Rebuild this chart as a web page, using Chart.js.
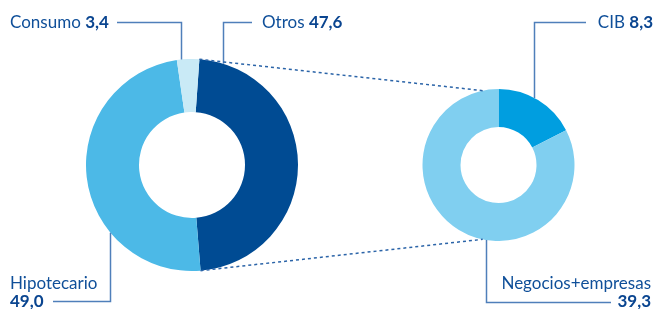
<!DOCTYPE html>
<html>
<head>
<meta charset="utf-8">
<script src="https://cdn.jsdelivr.net/npm/chart.js@4"></script>
<style>
  body { margin: 0; background: #fff; }
  #wrap { position: relative; width: 656px; height: 309px; font-family: Lato, sans-serif; color: #0f4f99; overflow: hidden; }
  .box { position: absolute; }
  .lbl { position: absolute; font-size: 17px; line-height: 18px; white-space: nowrap; }
  .lbl b { font-weight: 700; color: #0a4590; }
  #lines { position: absolute; left: 0; top: 0; pointer-events: none; }
</style>
</head>
<body>
<div id="wrap">
  <div class="box" style="left:86px;top:59px;width:212px;height:212px"><canvas id="mainChart"></canvas></div>
  <div class="box" style="left:422px;top:89px;width:153px;height:152px"><canvas id="detailChart"></canvas></div>
  <canvas id="lines" width="656" height="309"></canvas>
  <div class="lbl" id="lblConsumo" style="left:10px;top:13px"></div>
  <div class="lbl" id="lblOtros" style="left:262px;top:13px"></div>
  <div class="lbl" id="lblCib" style="right:3px;top:13px"></div>
  <div class="lbl" id="lblHipo" style="left:10px;top:274px"></div>
  <div class="lbl" id="lblNeg" style="right:5px;top:274px;text-align:right"></div>
</div>
<script>
// datos
const mainLabels = ['Otros', 'Hipotecario', 'Consumo'];
const mainValues = [47.6, 49.0, 3.4];
const mainColors = ['#004b93', '#4cb9e7', '#c9eaf6'];

const detailLabels = ['CIB', 'Negocios+empresas'];
const detailValues = [8.3, 39.3];
const detailColors = ['#009ee0', '#80cff0'];

function fmt(v) {
    return v.toFixed(1).replace('.', ',');
}

// etiquetas
document.getElementById('lblConsumo').innerHTML = mainLabels[2] + ' <b>' + fmt(mainValues[2]) + '</b>';
document.getElementById('lblOtros').innerHTML = mainLabels[0] + ' <b>' + fmt(mainValues[0]) + '</b>';
document.getElementById('lblCib').innerHTML = detailLabels[0] + ' <b>' + fmt(detailValues[0]) + '</b>';
document.getElementById('lblHipo').innerHTML = mainLabels[1] + '<br><b>' + fmt(mainValues[1]) + '</b>';
document.getElementById('lblNeg').innerHTML = detailLabels[1] + '<br><b>' + fmt(detailValues[1]) + '</b>';

function doughnutOpts(rotation) {
    return {
        responsive: true,
        maintainAspectRatio: false,
        animation: false,
        cutout: '50%',
        rotation: rotation,
        layout: { padding: 0 },
        plugins: { legend: { display: false }, tooltip: { enabled: false } }
    };
}

const mainChart = new Chart(document.getElementById('mainChart'), {
    type: 'doughnut',
    data: {
        labels: mainLabels,
        datasets: [{ data: mainValues, backgroundColor: mainColors, borderWidth: 0 }]
    },
    options: doughnutOpts(4)
});

const detailChart = new Chart(document.getElementById('detailChart'), {
    type: 'doughnut',
    data: {
        labels: detailLabels,
        datasets: [{ data: detailValues, backgroundColor: detailColors, borderWidth: 0 }]
    },
    options: doughnutOpts(0)
});

// geometria de cada anillo en coordenadas de la pagina
function ring(chart) {
    const arc = chart.getDatasetMeta(0).data[0];
    const box = chart.canvas.parentNode;
    return { cx: box.offsetLeft + arc.x, cy: box.offsetTop + arc.y, r: arc.outerRadius, arcs: chart.getDatasetMeta(0).data };
}
function edgeY(g, x, below) {
    const dy = Math.sqrt(Math.max(0, g.r * g.r - (x - g.cx) * (x - g.cx)));
    return below ? g.cy + dy : g.cy - dy;
}
function pointAt(g, a) {
    return [g.cx + g.r * Math.cos(a), g.cy + g.r * Math.sin(a)];
}

function drawLines() {
    const ctx = document.getElementById('lines').getContext('2d');
    const L = ring(mainChart);
    const R = ring(detailChart);
    ctx.clearRect(0, 0, 656, 309);

    // lineas de etiquetas
    ctx.strokeStyle = '#4f7fba';
    ctx.lineWidth = 1.5;
    function leader(x1, y1, x2, g, below) {
        ctx.beginPath();
        ctx.moveTo(x1, y1);
        ctx.lineTo(x2, y1);
        ctx.lineTo(x2, edgeY(g, x2, below));
        ctx.stroke();
    }
    leader(117, 22.5, 181.5, L, false);
    leader(252, 22.5, 223.5, L, false);
    leader(586, 22.5, 534.5, R, false);
    leader(53, 301.5, 110.5, L, true);
    leader(611, 302.5, 486.5, R, true);

    // lineas punteadas entre anillos
    const otros = L.arcs[0];
    const a = pointAt(L, otros.startAngle);
    const b = pointAt(L, otros.endAngle);
    const off = 12 * Math.PI / 180;
    const c = pointAt(R, -Math.PI / 2 - off);
    const d = pointAt(R, Math.PI / 2 + off);
    ctx.strokeStyle = '#2b64a8';
    ctx.setLineDash([3, 3]);
    ctx.beginPath();
    ctx.moveTo(a[0], a[1]); ctx.lineTo(c[0], c[1]);
    ctx.moveTo(b[0], b[1]); ctx.lineTo(d[0], d[1]);
    ctx.stroke();
    ctx.setLineDash([]);
}
drawLines();
</script>
</body>
</html>
